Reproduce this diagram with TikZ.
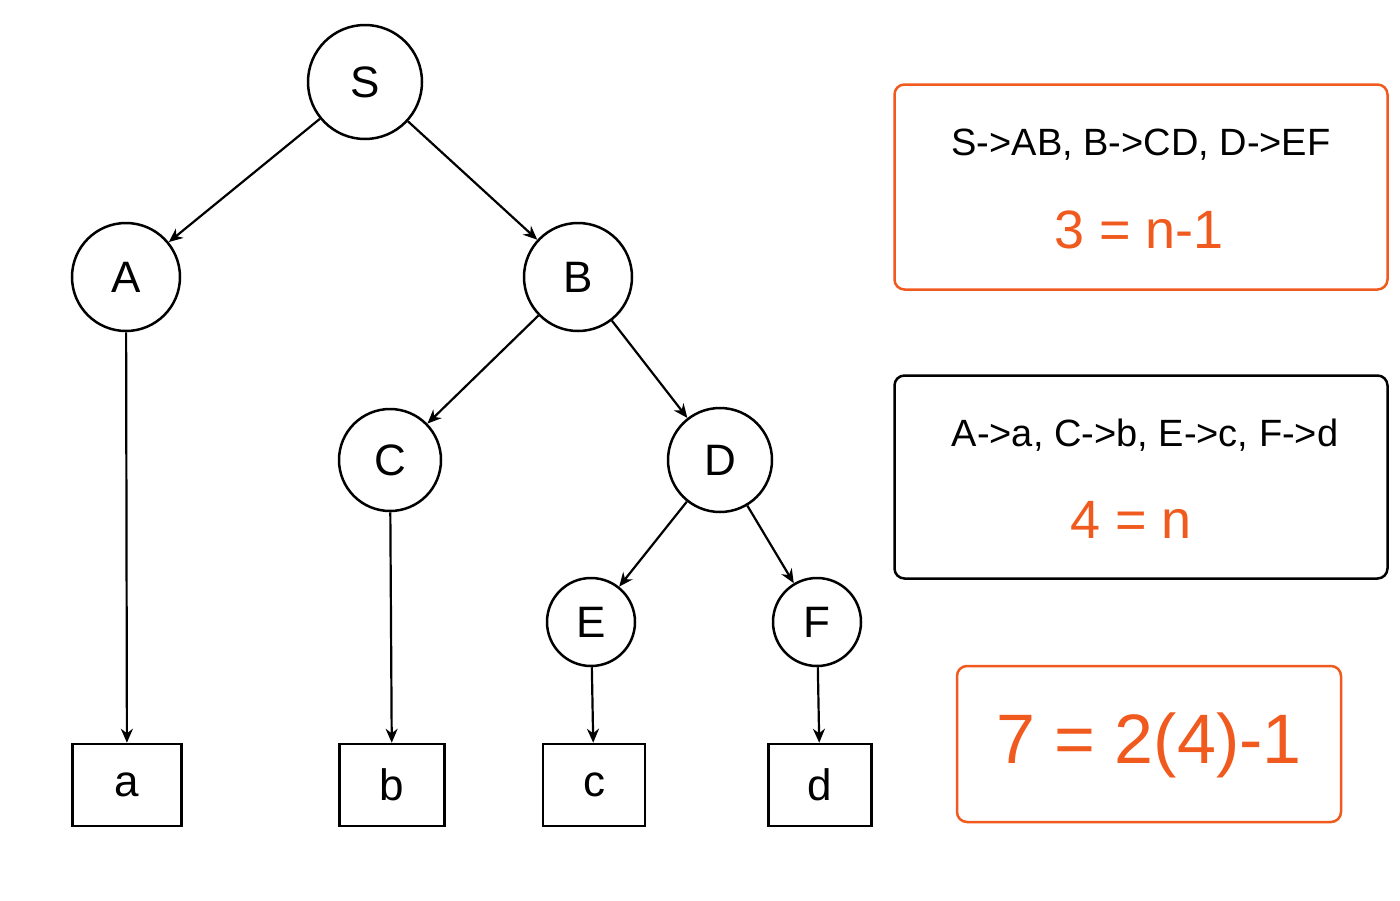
\documentclass[tikz,border=0pt]{standalone}
\usepackage{fontspec}
\setmainfont{Liberation Sans}
\usetikzlibrary{arrows.meta}
\definecolor{org}{HTML}{F05A1E}
\begin{document}
\begin{tikzpicture}[x=1pt,y=-1pt,
  circ/.style={circle,draw,line width=2.5pt,inner sep=0pt,font=\fontsize{44}{48}\selectfont},
  leaf/.style={draw,line width=2.5pt,inner sep=0pt,minimum height=82pt,font=\fontsize{44}{48}\selectfont},
  arr/.style={line width=2.2pt,-{Stealth[length=14pt,width=12pt]}},
  rbox/.style={draw,rounded corners=10pt,line width=2.5pt}]
\useasboundingbox (0,0) rectangle (1400,900);
\node[circ,minimum size=114pt] (S) at (365,82) {S};
\node[circ,minimum size=108pt] (A) at (126,277) {A};
\node[circ,minimum size=108pt] (B) at (578,277) {B};
\node[circ,minimum size=102pt] (C) at (390,460) {C};
\node[circ,minimum size=104pt] (D) at (720,460) {D};
\node[circ,minimum size=88pt] (E) at (591,622) {E};
\node[circ,minimum size=88pt] (F) at (817,622) {F};
\node[leaf,minimum width=109pt] (a) at (127,785) {a};
\node[leaf,minimum width=105pt] (b) at (392,785) {b};
\node[leaf,minimum width=102pt] (c) at (594,785) {c};
\node[leaf,minimum width=103pt] (d) at (820,785) {d};
\draw[arr] (S) -- (A); \draw[arr] (S) -- (B);
\draw[arr] (B) -- (C); \draw[arr] (B) -- (D);
\draw[arr] (D) -- (E); \draw[arr] (D) -- (F);
\draw[arr] (A) -- (a); \draw[arr] (C) -- (b);
\draw[arr] (E) -- (c); \draw[arr] (F) -- (d);
\node[rbox,draw=org,minimum width=493pt,minimum height=205pt] (r1) at (1141,187) {};
\node[font=\fontsize{38}{40}\selectfont] (t1) at (1141,145) {S->AB, B->CD, D->EF};
\node[font=\fontsize{54}{58}\selectfont,text=org] (e1) at (1139,230) {3 = n-1};
\node[rbox,minimum width=493pt,minimum height=203pt] (r2) at (1141,477) {};
\node[font=\fontsize{38}{40}\selectfont] (t2) at (1145,435) {A->a, C->b, E->c, F->d};
\node[font=\fontsize{54}{58}\selectfont,text=org] (e2) at (1131,520) {4 = n};
\node[rbox,draw=org,minimum width=384pt,minimum height=156pt] (r3) at (1149,744) {};
\node[font=\fontsize{70}{74}\selectfont,text=org] (e3) at (1149,745) {7 = 2(4)-1};
\end{tikzpicture}
\end{document}
